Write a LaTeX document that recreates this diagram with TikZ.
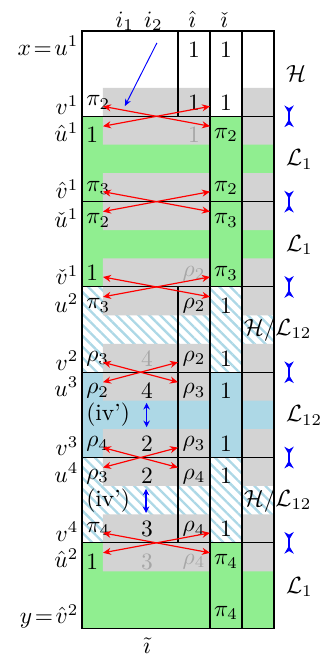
\documentclass[tikz,border=0pt]{standalone}
\usetikzlibrary{arrows.meta,patterns.meta}

\definecolor{lgreen}{RGB}{144,238,144}
\definecolor{lblue}{RGB}{173,216,230}
\definecolor{lgray}{RGB}{211,211,211}

\begin{document}
\begin{tikzpicture}[x=0.48cm, y=-0.4265cm,
    gline/.style={draw, line width=0.45pt},
    band/.style={fill=lgray},
    hatch/.style={pattern={Lines[angle=-45, distance=3.3pt, line width=1pt]}, pattern color=lblue},
    lab/.style={anchor=base east, inner sep=0pt},
    head/.style={anchor=base, inner sep=0pt},
    cell/.style={inner sep=0pt},
    lcell/.style={anchor=west, inner sep=0pt},
    faint/.style={inner sep=0pt, text=black!35},
    rlab/.style={anchor=west, inner sep=0pt},
    xarr/.style={{Stealth[length=3.4pt, width=3pt]}-{Stealth[length=3.4pt, width=3pt]}, red, line width=0.5pt},
    tie/.style={{Stealth[length=3.4pt, width=4pt, inset=1.1pt, reversed]}-{Stealth[length=3.4pt, width=4pt, inset=1.1pt, reversed]}, blue, line width=0.6pt},
    vdbl/.style={{Stealth[length=2.8pt, width=2.8pt]}-{Stealth[length=2.8pt, width=2.8pt]}, blue, line width=0.5pt}]

    \useasboundingbox (-2.5625,-1.09) rectangle (7.625,22.05);

    % === 底色 ===
    \fill[lgreen] (0,3) rectangle (6,9);
    \path[hatch]  (0,9) rectangle (6,12);
    \fill[lblue]  (0,12) rectangle (6,15);
    \path[hatch]  (0,15) rectangle (6,18);
    \fill[lgreen] (0,18) rectangle (6,21);

    % === 灰色条 (跨越每条分界线) ===
    \path[band] (0.656,2) rectangle (4,4) (5,2) rectangle (6,4);
    \path[band] (0.656,5) rectangle (4,7) (5,5) rectangle (6,7);
    \path[band] (0.656,8) rectangle (4,10) (5,8) rectangle (6,10);
    \path[band] (0.656,11) rectangle (4,13) (5,11) rectangle (6,13);
    \path[band] (0.656,14) rectangle (4,16) (5,14) rectangle (6,16);
    \path[band] (0.656,17) rectangle (4,19) (5,17) rectangle (6,19);

    % === 表格线 ===
    \draw[gline] (0,0) rectangle (6,21);
    \draw[gline] (4,0) -- (4,21) (5,0) -- (5,21);
    \draw[gline] (3,0) -- (3,3) (3,9) -- (3,18);
    \draw[gline] (0,3) -- (6,3) (0,6) -- (6,6) (0,9) -- (6,9);
    \draw[gline] (0,12) -- (6,12) (0,15) -- (6,15) (0,18) -- (6,18);

    % === 列标题 ===
    \node[head] (i1) at (1.33, -0.14) {$i_1$};
    \node[head] (i2) at (2.23, -0.14) {$i_2$};
    \node[head] (ih) at (3.44, -0.14) {$\hat\imath$};
    \node[head] (ic) at (4.44, -0.14) {$\check\imath$};
    \node[head] (it) at (2.03, 21.88) {$\tilde\imath$};

    % === 左侧标签 ===
    \node[lab] (lx)   at (-0.1, 0.86)  {$x\!=\!u^1$};
    \node[lab] (lv1)  at (-0.1, 2.94)  {$v^1$};
    \node[lab] (lhu1) at (-0.1, 3.9)   {$\hat u^1$};
    \node[lab] (lhv1) at (-0.1, 5.9)   {$\hat v^1$};
    \node[lab] (lcu1) at (-0.1, 6.92)  {$\check u^1$};
    \node[lab] (lcv1) at (-0.1, 8.93)  {$\check v^1$};
    \node[lab] (lu2)  at (-0.1, 9.9)   {$u^2$};
    \node[lab] (lv2)  at (-0.1, 11.93) {$v^2$};
    \node[lab] (lu3)  at (-0.1, 12.84) {$u^3$};
    \node[lab] (lv3)  at (-0.1, 14.94) {$v^3$};
    \node[lab] (lu4)  at (-0.1, 15.87) {$u^4$};
    \node[lab] (lv4)  at (-0.1, 17.94) {$v^4$};
    \node[lab] (lhu2) at (-0.1, 18.88) {$\hat u^2$};
    \node[lab] (ly)   at (-0.1, 20.84) {$y\!=\!\hat v^2$};

    % === 右侧标签 ===
    \node[rlab] (s1) at (6.36, 1.5)   {$\mathcal{H}$};
    \node[rlab] (s2) at (6.36, 4.52)  {$\mathcal{L}_1$};
    \node[rlab] (s3) at (6.36, 7.52)  {$\mathcal{L}_1$};
    \node[rlab] (s4) at (5.04, 10.5)  {$\mathcal{H}/\mathcal{L}_{12}$};
    \node[rlab] (s5) at (6.36, 13.52) {$\mathcal{L}_{12}$};
    \node[rlab] (s6) at (5.04, 16.5)  {$\mathcal{H}/\mathcal{L}_{12}$};
    \node[rlab] (s7) at (6.36, 19.55) {$\mathcal{L}_1$};

    % === 第一块 ===
    \node[cell]  (h0)  at (3.5, 0.66)  {$1$};
    \node[cell]  (c0)  at (4.5, 0.66)  {$1$};
    \node[lcell] (a2)  at (0.12, 2.52) {$\pi_2$};
    \node[cell]  (h2)  at (3.5, 2.52)  {$1$};
    \node[cell]  (c2)  at (4.5, 2.52)  {$1$};

    % === 第二块 ===
    \node[lcell] (a3)  at (0.12, 3.66) {$1$};
    \node[faint] (h3)  at (3.5, 3.66)  {$1$};
    \node[cell]  (c3)  at (4.5, 3.66)  {$\pi_2$};
    \node[lcell] (a5)  at (0.12, 5.52) {$\pi_3$};
    \node[cell]  (c5)  at (4.5, 5.52)  {$\pi_2$};

    % === 第三块 ===
    \node[lcell] (a6)  at (0.12, 6.66) {$\pi_2$};
    \node[cell]  (c6)  at (4.5, 6.66)  {$\pi_3$};
    \node[lcell] (a8)  at (0.12, 8.52) {$1$};
    \node[faint] (h8)  at (3.5, 8.52)  {$\rho_2$};
    \node[cell]  (c8)  at (4.5, 8.52)  {$\pi_3$};

    % === 第四块 ===
    \node[lcell] (a9)  at (0.12, 9.66)  {$\pi_3$};
    \node[cell]  (h9)  at (3.5, 9.66)   {$\rho_2$};
    \node[cell]  (c9)  at (4.5, 9.66)   {$1$};
    \node[lcell] (a11) at (0.12, 11.52) {$\rho_3$};
    \node[faint] (m11) at (2.03, 11.52) {$4$};
    \node[cell]  (h11) at (3.5, 11.52)  {$\rho_2$};
    \node[cell]  (c11) at (4.5, 11.52)  {$1$};

    % === 第五块 ===
    \node[lcell] (a12) at (0.12, 12.66) {$\rho_2$};
    \node[cell]  (m12) at (2.03, 12.66) {$4$};
    \node[cell]  (h12) at (3.5, 12.66)  {$\rho_3$};
    \node[cell]  (c12) at (4.5, 12.66)  {$1$};
    \node[lcell] (iv1) at (0.12, 13.5)  {(iv')};
    \node[lcell] (a14) at (0.12, 14.52) {$\rho_4$};
    \node[cell]  (m14) at (2.03, 14.52) {$2$};
    \node[cell]  (h14) at (3.5, 14.52)  {$\rho_3$};
    \node[cell]  (c14) at (4.5, 14.52)  {$1$};

    % === 第六块 ===
    \node[lcell] (a15) at (0.12, 15.66) {$\rho_3$};
    \node[cell]  (m15) at (2.03, 15.66) {$2$};
    \node[cell]  (h15) at (3.5, 15.66)  {$\rho_4$};
    \node[cell]  (c15) at (4.5, 15.66)  {$1$};
    \node[lcell] (iv2) at (0.12, 16.5)  {(iv')};
    \node[lcell] (a17) at (0.12, 17.52) {$\pi_4$};
    \node[cell]  (m17) at (2.03, 17.52) {$3$};
    \node[cell]  (h17) at (3.5, 17.52)  {$\rho_4$};
    \node[cell]  (c17) at (4.5, 17.52)  {$1$};

    % === 第七块 ===
    \node[lcell] (a18) at (0.12, 18.66) {$1$};
    \node[faint] (m18) at (2.03, 18.66) {$3$};
    \node[faint] (h18) at (3.5, 18.66)  {$\rho_4$};
    \node[cell]  (c18) at (4.5, 18.66)  {$\pi_4$};
    \node[cell]  (c20) at (4.5, 20.47)  {$\pi_4$};

    % === 交换箭头 (红) ===
    \coordinate (p1a) at (0.656, 2.65);  \coordinate (p1b) at (0.656, 3.35);
    \coordinate (q1a) at (4, 2.65);      \coordinate (q1b) at (4, 3.35);
    \coordinate (p2a) at (0.656, 5.65);  \coordinate (p2b) at (0.656, 6.35);
    \coordinate (q2a) at (4, 5.65);      \coordinate (q2b) at (4, 6.35);
    \coordinate (p3a) at (0.656, 8.65);  \coordinate (p3b) at (0.656, 9.35);
    \coordinate (q3a) at (4, 8.65);      \coordinate (q3b) at (4, 9.35);
    \coordinate (p4a) at (0.656, 11.65); \coordinate (p4b) at (0.656, 12.35);
    \coordinate (q4a) at (3, 11.65);     \coordinate (q4b) at (3, 12.35);
    \coordinate (p5a) at (0.656, 14.65); \coordinate (p5b) at (0.656, 15.35);
    \coordinate (q5a) at (3, 14.65);     \coordinate (q5b) at (3, 15.35);
    \coordinate (p6a) at (0.656, 17.65); \coordinate (p6b) at (0.656, 18.35);
    \coordinate (q6a) at (4, 17.65);     \coordinate (q6b) at (4, 18.35);

    \draw[xarr] (p1a) -- (q1b);
    \draw[xarr] (p1b) -- (q1a);
    \draw[xarr] (p2a) -- (q2b);
    \draw[xarr] (p2b) -- (q2a);
    \draw[xarr] (p3a) -- (q3b);
    \draw[xarr] (p3b) -- (q3a);
    \draw[xarr] (p4a) -- (q4b);
    \draw[xarr] (p4b) -- (q4a);
    \draw[xarr] (p5a) -- (q5b);
    \draw[xarr] (p5b) -- (q5a);
    \draw[xarr] (p6a) -- (q6b);
    \draw[xarr] (p6b) -- (q6a);

    % === 分界标记 (蓝) ===
    \coordinate (t1a) at (6.47, 2.62);  \coordinate (t1b) at (6.47, 3.38);
    \coordinate (t2a) at (6.47, 5.62);  \coordinate (t2b) at (6.47, 6.38);
    \coordinate (t3a) at (6.47, 8.62);  \coordinate (t3b) at (6.47, 9.38);
    \coordinate (t4a) at (6.47, 11.62); \coordinate (t4b) at (6.47, 12.38);
    \coordinate (t5a) at (6.47, 14.62); \coordinate (t5b) at (6.47, 15.38);
    \coordinate (t6a) at (6.47, 17.62); \coordinate (t6b) at (6.47, 18.38);

    \draw[tie] (t1a) -- (t1b);
    \draw[tie] (t2a) -- (t2b);
    \draw[tie] (t3a) -- (t3b);
    \draw[tie] (t4a) -- (t4b);
    \draw[tie] (t5a) -- (t5b);
    \draw[tie] (t6a) -- (t6b);

    % === (iv') 双箭头 ===
    \coordinate (v1a) at (2.02, 13.08); \coordinate (v1b) at (2.02, 13.93);
    \coordinate (v2a) at (2.0, 16.1);   \coordinate (v2b) at (2.0, 16.95);
    \draw[vdbl] (v1a) -- (v1b);
    \draw[vdbl] (v2a) -- (v2b);

    % === i_2 → 第一行 ===
    \coordinate (g0) at (2.34, 0.42);
    \coordinate (g1) at (1.34, 2.64);
    \draw[-{Stealth[length=3pt, width=2.6pt]}, blue, line width=0.4pt] (g0) -- (g1);

\end{tikzpicture}
\end{document}
